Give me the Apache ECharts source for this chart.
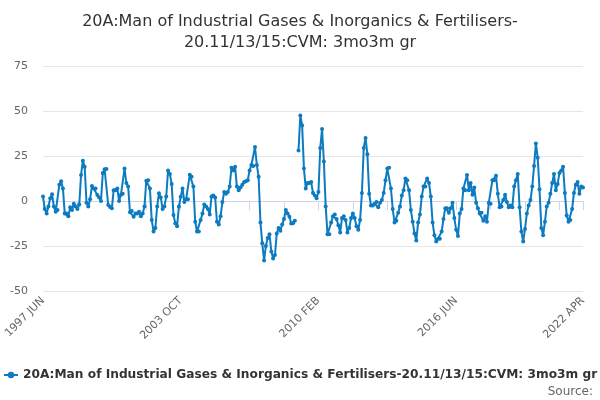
<!DOCTYPE html>
<html lang="en">
<head>
    <meta charset="UTF-8">
    <title>20A 3mo3m growth</title>
    <script src="https://cdn.jsdelivr.net/npm/echarts@6/dist/echarts.min.js"></script>
    <style>
        html, body { margin: 0; padding: 0; background: #fff; }
        #chart { width: 600px; height: 400px; }
    </style>
</head>
<body>
<div id="chart"></div>
<script>
    // months run 1997 JUN .. 2022 APR
    var MONTHS = ['JAN', 'FEB', 'MAR', 'APR', 'MAY', 'JUN', 'JUL', 'AUG', 'SEP', 'OCT', 'NOV', 'DEC'];
    var startYear = 1997, startMonth = 5, monthCount = 299;

    // values, in order (null = missing month)
    var vals1997 = [2.5, -4.5, -7, -3, 1.5, 3.7, -3, -6, -5, 9, 11, 7, -7, -7, -8.5, -3.5, -5, -1.5, -3, -4.5, -2];
    var vals1999 = [14.5, 22.4, 19, -1, -3, 1, 8.3, 7, 7, 3.3, 2, 0, 15.5, 17.6, 17.8, -2.2, -3.3, -4, 6, 6];
    var vals2001 = [7, 0, 3.5, 4, 18, 10, 8, -6.3, -5.5, -8.7, -7, -7, -6, -8.5, -7, -3, 11.3, 11.5, 7, -10.5];
    var vals2002 = [-17, -15, -3, 4.3, 2, -4.5, -3, 2.5, 16.9, 15, 9.5, -7.8, -12.3, -14, -3, 2.4, 7, -0.5, 1, 1,
        14.6, 13.5, 8, -11.5, -17, -17];
    var vals2004 = [-10.5, -7, -2, -3, -4.5, -7.5, 2.5, 3, 2, -11.5, -13, -8.5, -0.5, 5, 4, 5, 8, 18.5, 17, 19,
        8, 6, 7.5, 9, 10.5, 11, 11.5, 17, 20, 19.5, 30, 20, 13.5];
    var vals2007 = [-12, -23.5, -33, -25, -20.5, -18.5, -28, -32, -30, -18, -15, -16.5, -13, -10, -5, -7, -8.7,
        -12.5, -12.3, -11, null];
    var vals2009 = [28, 47.5, 42, 18, 7, 10, 10, 10.5, 4.5, 3, 1.5, 5, 29.5, 40];
    var vals2010 = [22, -3, -18.5, -18.5, -12, -8.5, -7.5, -10, -13.5, -17.5, -9.5, -8.5, -10.5, -17.5, -15, -9.5,
        -7, -9.5, -14, -16, -10.5, 4.5, 29.5, 35, 26, 4, -2.5, -2.5, -1.5, -0.5, -3.5, -1, 0.5, 4.5, 11.5, 18,
        18.5, 7, -4.5, -12, -11, -6.5, -3, 3, 6, 12.5, 11.5, 6, -5, -11.5, -18, -22, -12, -7.5, 2.5, 8, 8, 12.5,
        10, 2.5, -12, -19, -22.5, -21, -21, -17, -10, -4, -4, -6.5];
    var vals2016 = [-4, -1, -9.5, -16, -19.5, -7, -4.5, 7, 6, 14.5, 6, 10, 3.5, 7.5, -1, -4, -7, -6.5, -11, -8.5,
        -11.5, -1, -1.5, 11.5, 11.5, 14, 4, -3.5, -3, 0.5, 3.5, -0.5, -3.5, -2.5, -3.5, 8, 11.5, 15, -3.5, -17,
        -22.5, -15.5, -7, -2.5, 0.5, 8, 19.5, 32, 24, 6.5, -15, -19, -11.5, -3, -1, 4, 10, 15, 6, 9.5, 15.5, 17,
        19, 4.5, -8, -11.5, -10.5, -4.5, 4.5, 9, 10.5, 4, 8, 7.5];

    var yTicks = [-50, -25, 0, 25, 50, 75];
    var seriesName = '20A:Man of Industrial Gases & Inorganics & Fertilisers-20.11/13/15:CVM: 3mo3m gr';
    var titleText = '20A:Man of Industrial Gases & Inorganics & Fertilisers-\n20.11/13/15:CVM: 3mo3m gr';

    var categories = [];
    for (var i = 0; i < monthCount; i++) {
        var m = startMonth + i;
        categories.push((startYear + Math.floor(m / 12)) + ' ' + MONTHS[m % 12]);
    }
    var values = [].concat(vals1997, vals1999, vals2001, vals2002, vals2004, vals2007, vals2009, vals2010, vals2016);

    var lastIdx = categories.length - 1;
    var lineColor = '#0c7bc0';

    var myChart = echarts.init(document.getElementById('chart'), null, {renderer: 'canvas'});
    var option = {
        animation: false,
        title: [
            {
                text: titleText,
                left: 'center',
                top: 6,
                textStyle: {
                    fontFamily: 'DejaVu Sans',
                    fontSize: 16,
                    fontWeight: 'normal',
                    color: '#333',
                    lineHeight: 21
                }
            },
            {
                text: 'Source:',
                right: 7,
                top: 386,
                padding: 0,
                textStyle: {
                    fontFamily: 'DejaVu Sans',
                    fontSize: 12,
                    fontWeight: 'normal',
                    color: '#666'
                }
            }
        ],
        legend: {
            left: 3,
            top: 369,
            padding: 0,
            itemWidth: 14,
            itemHeight: 8,
            data: [seriesName],
            textStyle: {
                fontFamily: 'DejaVu Sans',
                fontSize: 12.2,
                fontWeight: 'bold',
                color: '#333'
            }
        },
        grid: {
            left: 43,
            right: 17,
            top: 66,
            bottom: 109
        },
        xAxis: {
            type: 'category',
            boundaryGap: false,
            data: categories,
            axisLine: {lineStyle: {color: '#ccd6eb'}},
            axisTick: {
                length: 9,
                lineStyle: {color: '#ccd6eb'},
                interval: function (idx) { return idx % 19 === 0 || idx === lastIdx; }
            },
            axisLabel: {
                rotate: 45,
                margin: 8,
                fontFamily: 'DejaVu Sans',
                fontSize: 11,
                color: '#666',
                interval: function (idx) { return idx % 76 === 0 || idx === lastIdx; }
            },
            splitLine: {show: false}
        },
        yAxis: {
            type: 'value',
            min: yTicks[0],
            max: yTicks[yTicks.length - 1],
            interval: 25,
            axisLine: {show: false},
            axisTick: {show: false},
            axisLabel: {
                margin: 15,
                fontFamily: 'DejaVu Sans',
                fontSize: 11,
                color: '#666'
            },
            splitLine: {lineStyle: {color: '#e6e6e6'}}
        },
        series: [
            {
                name: seriesName,
                type: 'line',
                data: values,
                connectNulls: false,
                symbol: 'circle',
                symbolSize: 4,
                showAllSymbol: true,
                lineStyle: {width: 2, color: lineColor},
                itemStyle: {color: lineColor}
            }
        ]
    };
    myChart.setOption(option, true);
</script>
</body>
</html>
